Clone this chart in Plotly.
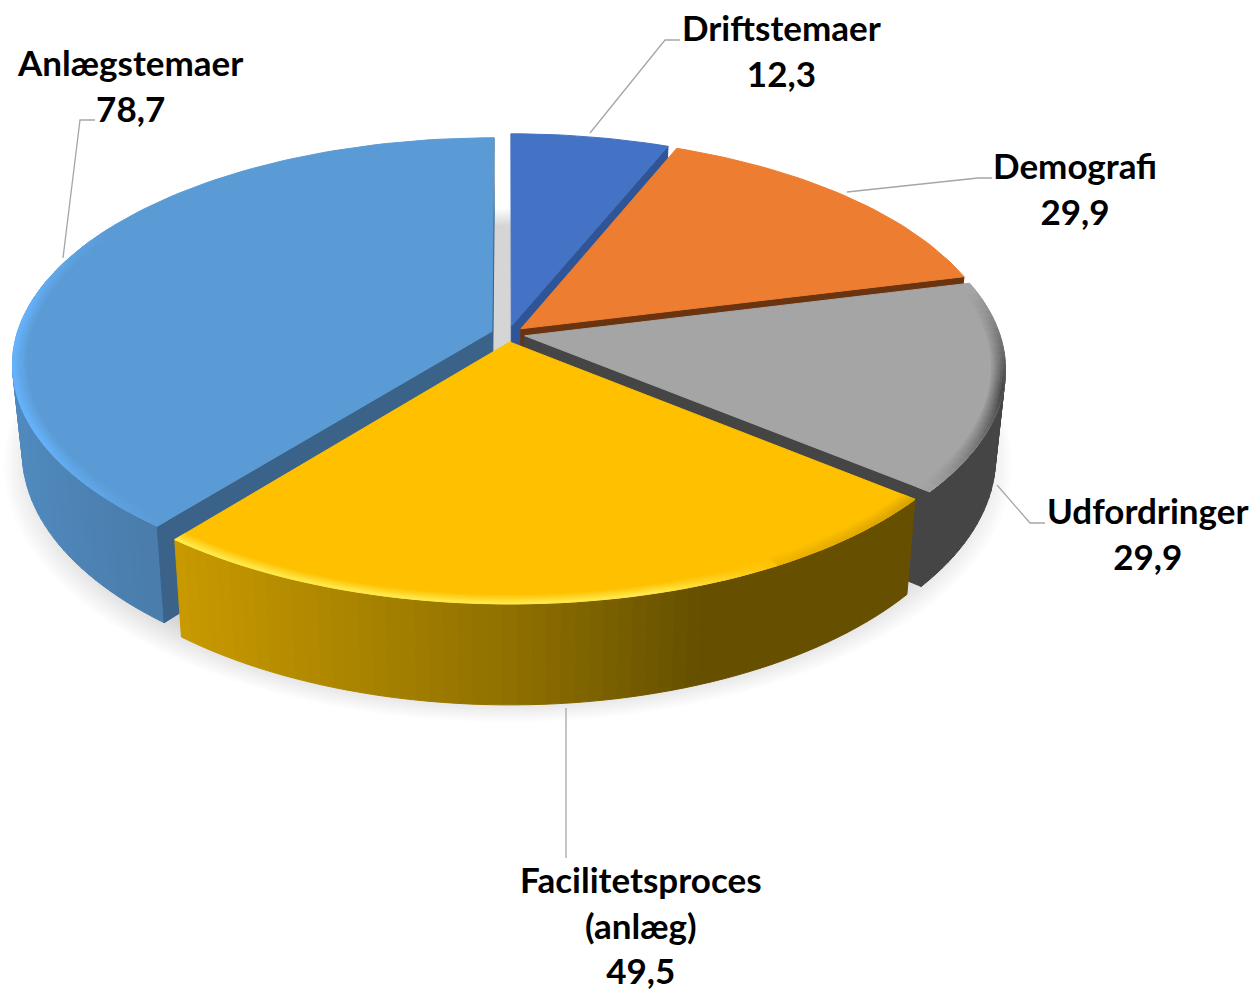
import math
import plotly.graph_objects as go

categories = ["Driftstemaer", "Demografi", "Udfordringer", "Facilitetsproces<br>(anlæg)", "Anlægstemaer"]
values = [12.3, 29.9, 29.9, 49.5, 78.7]

W, H = 1251, 993
CX, CY = 508.0, 334.0
RX, RY = 475.0, 222.0
PERSP = 0.143
DEPTH = 86.0
TAPER = 0.98
EXPLODE = 0.036

face = ["#4472C4", "#ED7D31", "#A5A5A5", "#FFC000", "#5B9BD5"]
cut = ["#2F5597", "#6B3410", "#454545", "#665000", "#3B6389"]
rim = [None, None, "#4A4A4A", "#FFE94A", "#66B2FA"]
rim_range = [None, None, (78, 130), (129, 219), (218, 300)]
draw_order = [4, 0, 1, 2, 3]

label_pos = [(781, 50), (1075, 188), (1147, 533), (641, 924), (130, 85)]
leaders = [
    ([590, 665, 680], [133, 40, 40]),
    ([847, 978, 992], [192, 178, 178]),
    ([997, 1030, 1045], [485, 523, 523]),
    ([566, 566], [708, 858]),
    ([63, 80, 95], [258, 120, 120]),
]


def hex2rgb(c):
    return tuple(int(c[i:i + 2], 16) for i in (1, 3, 5))


def mix(a, b, t):
    t = max(0.0, min(1.0, t))
    ra, rb = hex2rgb(a), hex2rgb(b)
    return "rgb(%d,%d,%d)" % tuple(round(p + (q - p) * t) for p, q in zip(ra, rb))


def proj(u, v):
    s = 1 / (1 + PERSP * v)
    return CX + RX * u * s, CY - RY * v * s


def lower(pt, u_v):
    s = 1 / (1 + PERSP * u_v[1])
    return CX + (pt[0] - CX) * TAPER, pt[1] + DEPTH * s


fig = go.Figure()


def poly(xs, ys, color, line=True):
    fig.add_trace(go.Scatter(
        x=list(xs) + [xs[0]], y=list(ys) + [ys[0]], mode="lines", fill="toself",
        fillcolor=color,
        line=dict(color=color if line else "rgba(0,0,0,0)", width=1 if line else 0),
        hoverinfo="skip", showlegend=False))


# soft shadow under the pie: the lower plane of the full disc, feathered
for k in range(14):
    scale = 1.07 - k * 0.007
    pts = []
    for d in range(0, 361, 3):
        a = math.radians(d)
        u, v = scale * math.sin(a), scale * math.cos(a)
        p = proj(u, v)
        q = lower(p, (u, v))
        pts.append((q[0], q[1] + 6))
    poly([p[0] for p in pts], [p[1] for p in pts], "rgba(0,0,0,0.0115)", line=False)

total = sum(values)
angles = [0.0]
for val in values:
    angles.append(angles[-1] + val / total * 360)


def side_color(i, x):
    if i == 3:
        if x < 500:
            return mix("#C99A00", "#917200", (x - 175) / 325)
        return mix("#917200", "#665000", (x - 500) / 200)
    if i == 4:
        return mix("#5089BD", "#4A7DAC", (x - 20) / 120)
    return cut[i]


for i in draw_order:
    a0, a1 = angles[i], angles[i + 1]
    mid = math.radians((a0 + a1) / 2)
    ou, ov = EXPLODE * math.sin(mid), EXPLODE * math.cos(mid)
    steps = max(8, int((a1 - a0) / 1.5))
    degs = [a0 + (a1 - a0) * n / steps for n in range(steps + 1)]

    def plane(deg, r=1.0):
        a = math.radians(deg)
        return ou + r * math.sin(a), ov + r * math.cos(a)

    apex_uv = (ou, ov)
    apex = proj(*apex_uv)
    arc_uv = [plane(d) for d in degs]
    arc = [proj(*uv) for uv in arc_uv]

    # outer wall, only where the rim runs leftwards on screen (front facing)
    order = sorted(range(steps), key=lambda n: -arc_uv[n][1])
    for n in order:
        p0, p1 = arc[n], arc[n + 1]
        if p1[0] >= p0[0]:
            continue
        q0, q1 = lower(p0, arc_uv[n]), lower(p1, arc_uv[n + 1])
        poly([p0[0], p1[0], q1[0], q0[0]], [p0[1], p1[1], q1[1], q0[1]],
             side_color(i, (p0[0] + p1[0]) / 2))

    # cut faces
    for p0, uv0, p1, uv1 in ((apex, apex_uv, arc[0], arc_uv[0]), (arc[-1], arc_uv[-1], apex, apex_uv)):
        if p1[0] < p0[0] - 0.5:
            q0, q1 = lower(p0, uv0), lower(p1, uv1)
            poly([p0[0], p1[0], q1[0], q0[0]], [p0[1], p1[1], q1[1], q0[1]], cut[i])

    # top surface
    poly([apex[0]] + [p[0] for p in arc], [apex[1]] + [p[1] for p in arc], face[i])

    # bevel highlight along the rim
    if rim[i]:
        lo, hi = rim_range[i]
        bands = 6
        for b in range(bands):
            r0 = 0.972 + b * 0.028 / bands
            r1 = r0 + 0.028 / bands
            for n in range(steps):
                d0, d1 = degs[n], degs[n + 1]
                dm = (d0 + d1) / 2
                if not (lo <= dm <= hi):
                    continue
                strength = (b + 1) / bands
                if i == 3:
                    if dm < 150:
                        col = mix(face[i], "#D9A300", strength * (165 - dm) / 35)
                    else:
                        col = mix(face[i], rim[i], strength * min(1.0, (dm - 150) / 15))
                else:
                    col = mix(face[i], rim[i], strength * min(1.0, (dm - lo) / 25, (hi - dm) / 25))
                pts = [proj(*plane(d0, r0)), proj(*plane(d1, r0)), proj(*plane(d1, r1)), proj(*plane(d0, r1))]
                poly([p[0] for p in pts], [p[1] for p in pts], col)

# leader lines
for xs, ys in leaders:
    fig.add_trace(go.Scatter(x=xs, y=ys, mode="lines", line=dict(color="#A6A6A6", width=1.3),
                             hoverinfo="skip", showlegend=False))

# labels
for name, val, (lx, ly) in zip(categories, values, label_pos):
    fig.add_annotation(x=lx, y=ly, xref="x", yref="y", showarrow=False, align="center",
                       text="<b>%s<br>%s</b>" % (name, str(val).replace(".", ",")),
                       font=dict(family="Lato, Carlito, sans-serif", size=35, color="#000000"))

fig.update_layout(
    width=W, height=H, margin=dict(l=0, r=0, t=0, b=0),
    paper_bgcolor="#FFFFFF", plot_bgcolor="#FFFFFF", showlegend=False,
    xaxis=dict(range=[0, W], visible=False, fixedrange=True),
    yaxis=dict(range=[H, 0], visible=False, fixedrange=True),
)
fig.write_html("out.html", post_script="document.body.style.margin='0';document.body.style.overflow='hidden';",
               config={"displayModeBar": False})
